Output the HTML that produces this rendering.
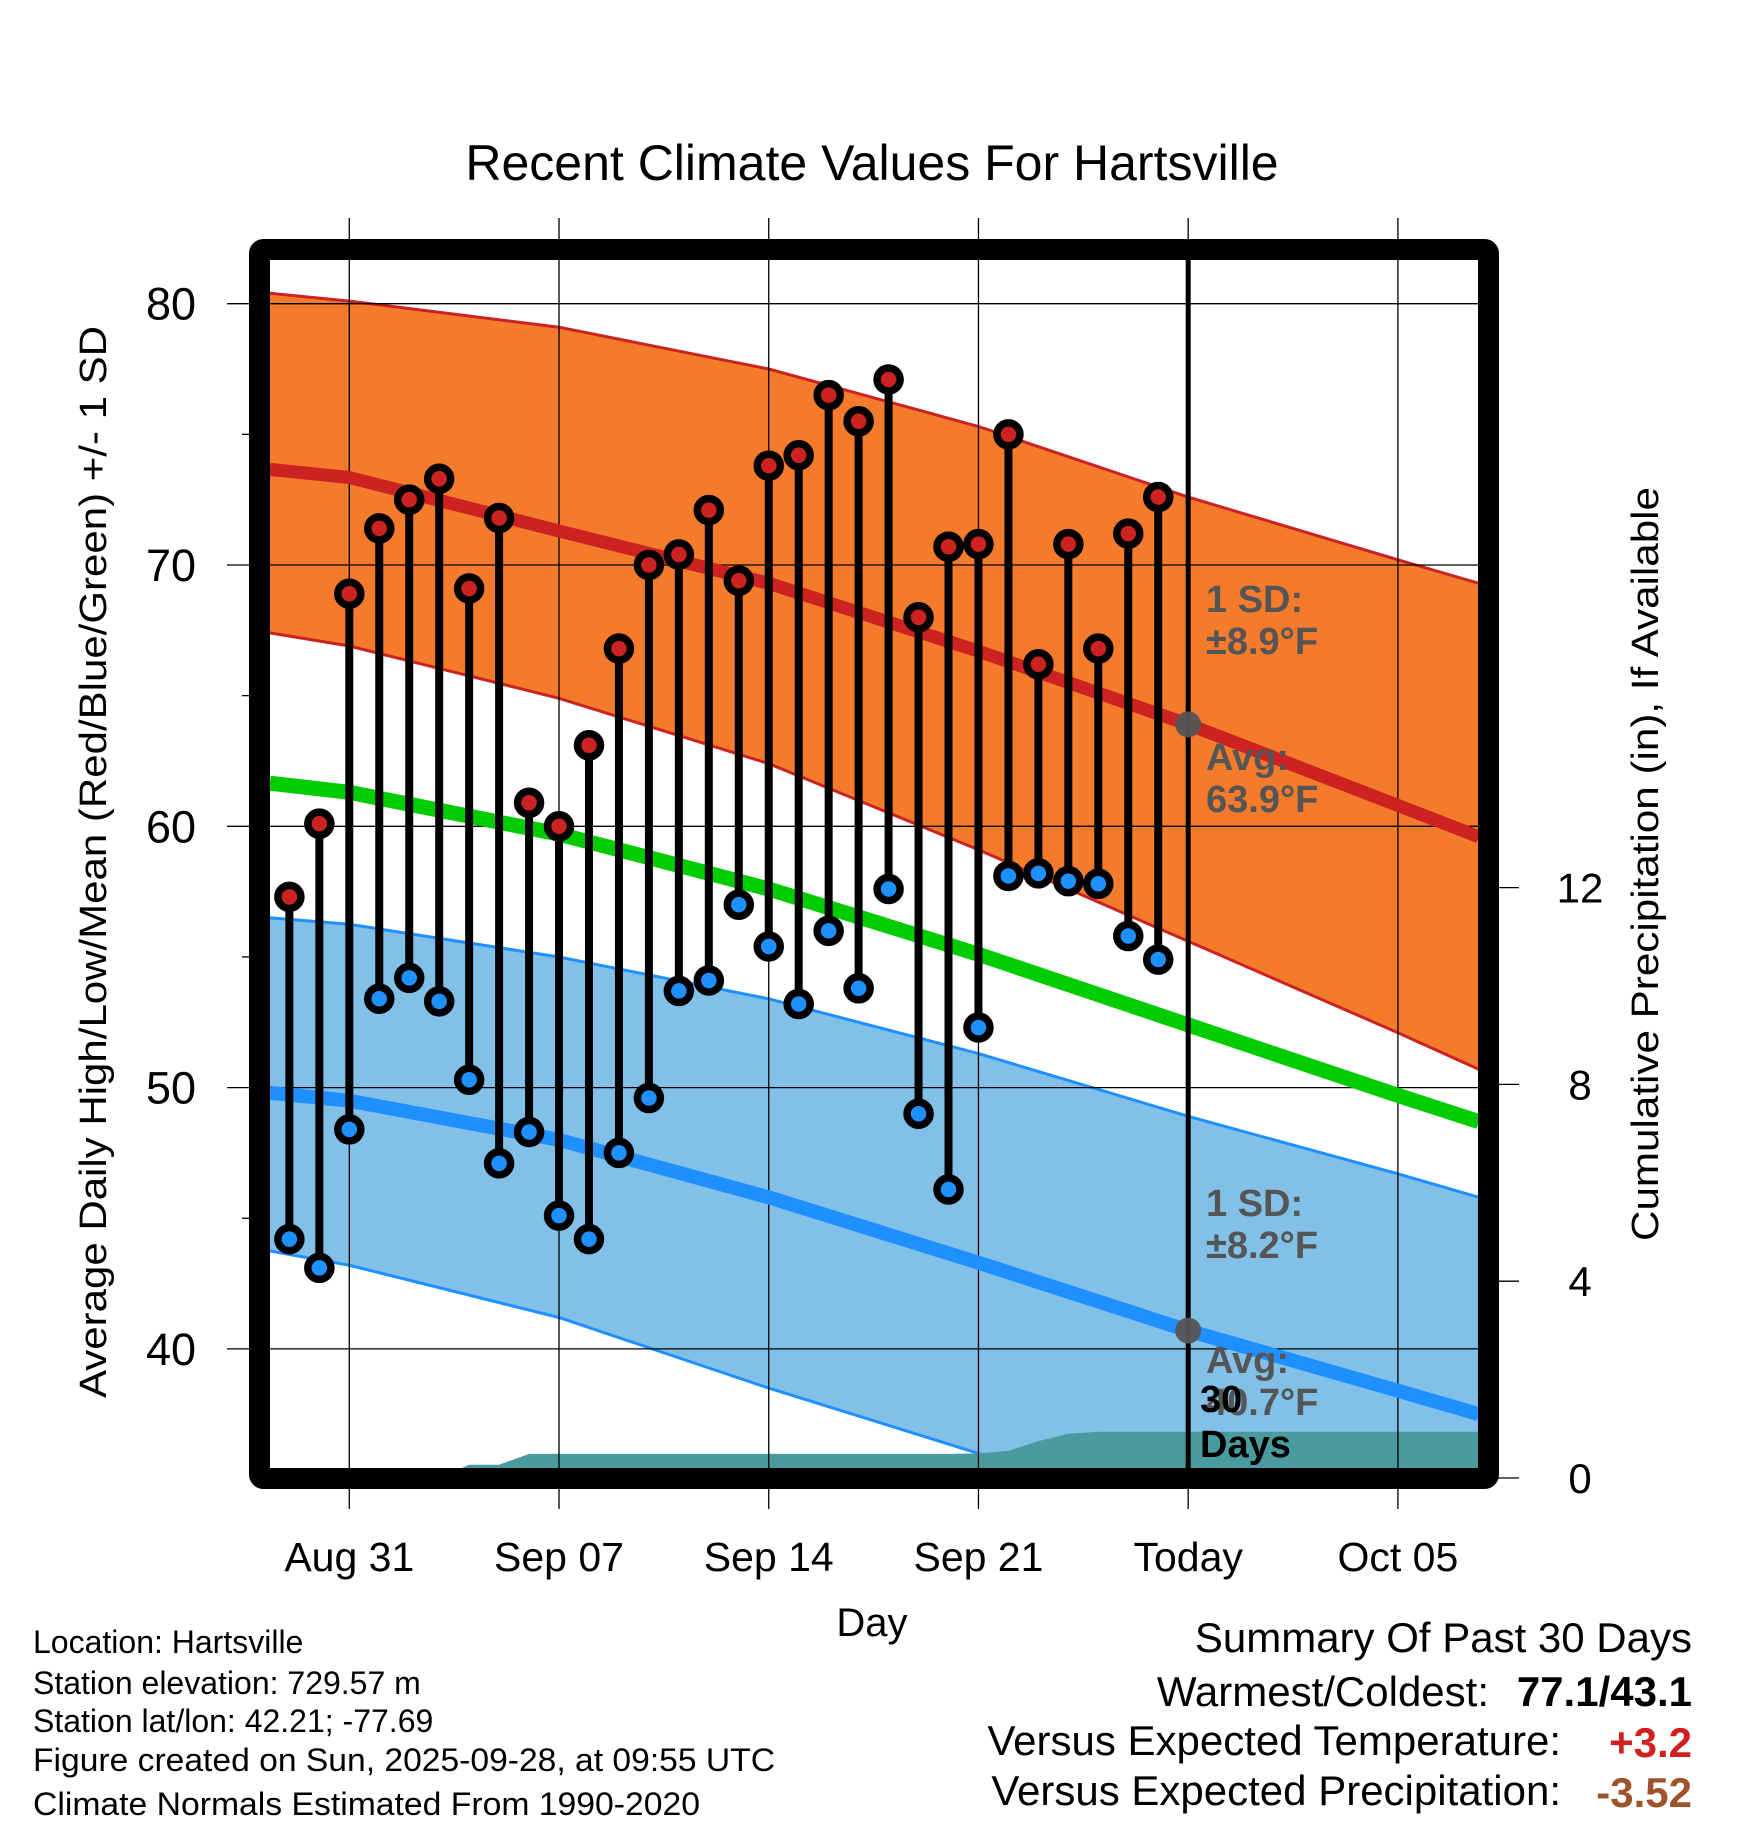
<!DOCTYPE html>
<html><head><meta charset="utf-8"><style>
html,body{margin:0;padding:0;background:#fff;}
svg{display:block;font-family:"Liberation Sans",Arial,sans-serif;}
</style></head><body>
<svg id="chart" width="1748" height="1828" viewBox="0 0 1748 1828" xmlns="http://www.w3.org/2000/svg">
<defs><clipPath id="plotclip"><rect x="270" y="260" width="1208" height="1208"/></clipPath></defs>
<g id="plot" clip-path="url(#plotclip)"></g>
<g id="over"></g>
</svg>
<script>
// ---- data ----
const dayLabels = ["Aug 31","Sep 07","Sep 14","Sep 21","Today","Oct 05"];
const dayTicks = [0,7,14,21,28,35];
const obsDays = [-2,-1,0,1,2,3,4,5,6,7,8,9,10,11,12,13,14,15,16,17,18,19,20,21,22,23,24,25,26,27];
const highs = [57.3,60.1,68.9,71.4,72.5,73.3,69.1,71.8,60.9,60.0,63.1,66.8,70.0,70.4,72.1,69.4,73.8,74.2,76.5,75.5,77.1,68.0,70.7,70.8,75.0,66.2,70.8,66.8,71.2,72.6];
const lows = [44.2,43.1,48.4,53.4,54.2,53.3,50.3,47.1,48.3,45.1,44.2,47.5,49.6,53.7,54.1,57.0,55.4,53.2,56.0,53.8,57.6,49.0,46.1,52.3,58.1,58.2,57.9,57.8,55.8,54.9];
const normDays = [-2.65,0,7,14,21,28,35,37.7];
const highAvg = [73.66,73.35,71.3,69.3,66.7,63.9,60.8,59.6];
const highUpper = [80.4,80.1,79.1,77.5,75.3,72.6,70.2,69.3];
const highLower = [67.4,66.9,64.9,62.4,59.1,55.6,52.1,50.7];
const meanAvg = [61.65,61.3,59.7,57.6,55.1,52.4,49.7,48.7];
const lowAvg = [49.8,49.5,48.0,45.8,43.3,40.7,38.4,37.5];
const lowUpper = [56.5,56.25,55.0,53.4,51.3,48.9,46.7,45.8];
const lowLower = [43.75,43.2,41.2,38.5,36.0,33.5,31.3,30.5];
const precipDays = [-2.65,-2,-1,0,1,2,3,4,5,6,7,8,9,10,11,12,13,14,15,16,17,18,19,20,21,22,23,24,25,26,27,37.7];
const precipCum = [0,0,0,0,0,0,0,0.27,0.27,0.49,0.49,0.49,0.49,0.49,0.49,0.49,0.49,0.49,0.49,0.49,0.49,0.49,0.49,0.49,0.5,0.55,0.75,0.9,0.94,0.94,0.94,0.94];
const yTicks = [40,50,60,70,80];
const yMinor = [45,55,65,75];
const pTicks = [0,4,8,12];
// ---- axes ----
const X = d => 349.3 + d*29.96;
const Y = t => 303.7 + (80 - t)*26.13;
const P = p => 1478 - p*49.2;
const NS = "http://www.w3.org/2000/svg";
const plot = document.getElementById('plot');
const over = document.getElementById('over');
function mk(tag, attrs, parent, txt){
  const e = document.createElementNS(NS, tag);
  for (const k in attrs) e.setAttribute(k, attrs[k]);
  if (txt !== undefined) e.textContent = txt;
  parent.appendChild(e); return e;
}
function pts(xs, ys, fy){ return xs.map((d,i)=>X(d).toFixed(1)+','+fy(ys[i]).toFixed(1)); }
function band(up, lo, fill, stroke, name){
  const a = pts(normDays, up, Y), b = pts(normDays, lo, Y).reverse();
  const e = mk('polygon',{points:a.concat(b).join(' '),fill:fill}, plot);
  
  
  const l1 = mk('polyline',{points:a.join(' '),fill:'none',stroke:stroke,'stroke-width':3}, plot);
  
  
  const l2 = mk('polyline',{points:pts(normDays, lo, Y).join(' '),fill:'none',stroke:stroke,'stroke-width':3}, plot);
  
  
}
band(highUpper, highLower, '#f47a2c', '#cc2222', 'high-sd-band');
band(lowUpper, lowLower, '#82c0e8', '#1e90ff', 'low-sd-band');
// precip
{
  const top = pts(precipDays, precipCum, P);
  const poly = top.concat([X(37.7)+','+P(0), X(-2.65)+','+P(0)]);
  const e = mk('polygon',{points:poly.join(' '),fill:'#4a9ba0'}, plot);
  
  
}
// gridlines
yTicks.forEach(t=>{
  const g = mk('line',{x1:227,x2:1478,y1:Y(t),y2:Y(t),stroke:'#000','stroke-width':1.3}, over);
  
  
});
dayTicks.forEach(d=>{
  const g = mk('line',{x1:X(d),x2:X(d),y1:218,y2:1509,stroke:'#000','stroke-width':1.3}, over);
  
  
});
// avg lines
function line(arr, color, w, name){
  const e = mk('polyline',{points:pts(normDays, arr, Y).join(' '),fill:'none',stroke:color,'stroke-width':w,'stroke-linejoin':'round'}, over);
  
  
  e.setAttribute('clip-path','url(#plotclip)');
}
line(highAvg,'#cc2222',13,'high-avg-line');
line(meanAvg,'#00cc00',15,'mean-avg-line');
line(lowAvg,'#1e90ff',14,'low-avg-line');
// today line
{
  const e = mk('line',{x1:X(28),x2:X(28),y1:255,y2:1480,stroke:'#000','stroke-width':5}, over);
  
  
}
// stems & markers
obsDays.forEach((d,i)=>{
  const s = mk('line',{x1:X(d),x2:X(d),y1:Y(highs[i]),y2:Y(lows[i]),stroke:'#000','stroke-width':8}, over);
  
  
});
obsDays.forEach((d,i)=>{
  const h = mk('circle',{cx:X(d),cy:Y(highs[i]),r:11.5,fill:'#cc2222',stroke:'#000','stroke-width':7.5}, over);
  
  
  const l = mk('circle',{cx:X(d),cy:Y(lows[i]),r:11.5,fill:'#1e90ff',stroke:'#000','stroke-width':7.5}, over);
  
  
});
// gray today dots
[highAvg[5], lowAvg[5]].forEach(v=>{
  const c = mk('circle',{cx:X(28),cy:Y(v),r:13,fill:'#555',opacity:0.95}, over);
  
  
});
// annotations
const ann = [["1 SD:",1206,612],["±8.9°F",1206,654],["Avg:",1206,770],["63.9°F",1206,812],["1 SD:",1206,1216],["±8.2°F",1206,1258],["Avg:",1206,1373],["40.7°F",1206,1415]];
ann.forEach(a=>{
  const t = mk('text',{x:a[1],y:a[2],'font-size':38,'font-weight':'bold',fill:'#555'}, over, a[0]);
  
  
});
{
  const t1 = mk('text',{x:1200,y:1412,'font-size':38,'font-weight':'bold',fill:'#000'}, over, '30');
  
  
  const t2 = mk('text',{x:1200,y:1457,'font-size':38,'font-weight':'bold',fill:'#000'}, over, 'Days');
  
  
}
// frame
{
  const f = mk('rect',{x:259.5,y:249.5,width:1229,height:1229,rx:4,fill:'none',stroke:'#000','stroke-width':21}, over);
  
  
}
// y ticks
yTicks.forEach(t=>{
  const l = mk('text',{x:196,y:Y(t)+16,'font-size':45,'text-anchor':'end'}, over, String(t));
  
  
});
yMinor.forEach(t=>{
  const l = mk('line',{x1:242,x2:250,y1:Y(t),y2:Y(t),stroke:'#000','stroke-width':1.3}, over);
  
  
});
pTicks.forEach(p=>{
  const l = mk('line',{x1:1498,x2:1519,y1:P(p),y2:P(p),stroke:'#000','stroke-width':1.3}, over);
  
  
  const t = mk('text',{x:1580,y:P(p)+15,'font-size':42,'text-anchor':'middle'}, over, String(p));
  
  
});
dayTicks.forEach((d,i)=>{
  const t = mk('text',{x:X(d),y:1571,'font-size':41,'text-anchor':'middle'}, over, dayLabels[i]);
  
  
});
</script>
<svg style="position:absolute;left:0;top:0" width="1748" height="1828">
<text x="872" y="180" font-size="50" text-anchor="middle">Recent Climate Values For Hartsville</text>
<text x="872" y="1636" font-size="40" text-anchor="middle">Day</text>
<text transform="translate(106,862) rotate(-90)" font-size="38" text-anchor="middle" textLength="1072" lengthAdjust="spacingAndGlyphs">Average Daily High/Low/Mean (Red/Blue/Green) +/- 1 SD</text>
<text transform="translate(1658,864) rotate(-90)" font-size="38" text-anchor="middle" textLength="754" lengthAdjust="spacingAndGlyphs">Cumulative Precipitation (in), If Available</text>
<g font-size="32">
<text x="33" y="1653">Location: Hartsville</text>
<text x="33" y="1694">Station elevation: 729.57 m</text>
<text x="33" y="1732">Station lat/lon: 42.21; -77.69</text>
<text x="33" y="1771" textLength="742" lengthAdjust="spacingAndGlyphs">Figure created on Sun, 2025-09-28, at 09:55 UTC</text>
<text x="33" y="1815" textLength="667" lengthAdjust="spacingAndGlyphs">Climate Normals Estimated From 1990-2020</text>
</g>
<g font-size="42">
<text x="1692" y="1652" text-anchor="end">Summary Of Past 30 Days</text>
<text x="1489" y="1706" text-anchor="end">Warmest/Coldest:</text>
<text x="1692" y="1706" text-anchor="end" font-weight="bold">77.1/43.1</text>
<text x="1561" y="1755" text-anchor="end">Versus Expected Temperature:</text>
<text x="1692" y="1757" text-anchor="end" font-weight="bold" fill="#d02020">+3.2</text>
<text x="1561" y="1805" text-anchor="end">Versus Expected Precipitation:</text>
<text x="1692" y="1807" text-anchor="end" font-weight="bold" fill="#a0522d">-3.52</text>
</g>
</svg>
</body></html>
